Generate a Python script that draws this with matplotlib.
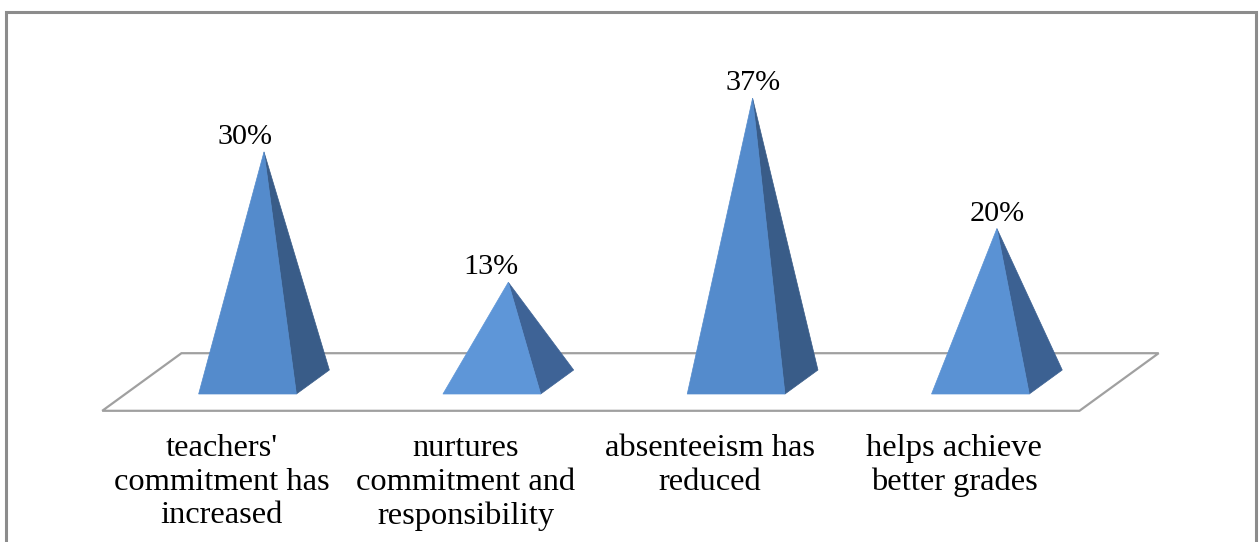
import matplotlib
matplotlib.use('Agg')
import matplotlib.pyplot as plt
from matplotlib.patches import Polygon, Rectangle
import numpy as np

categories = ["teachers'\ncommitment has\nincreased",
              "nurtures\ncommitment and\nresponsibility",
              "absenteeism has\nreduced",
              "helps achieve\nbetter grades"]
values = [30, 13, 37, 20]
value_labels = ["30%", "13%", "37%", "20%"]

W, H, DPI = 1259, 542, 100
fig = plt.figure(figsize=(W / DPI, H / DPI), dpi=DPI)
fig.patch.set_facecolor('white')
ax = fig.add_axes([0, 0, 1, 1])
ax.set_axis_off()

# layout (pixels)
step_px = 244.3
x0_px = 247.5
pct_px = 7.67
base_from_bottom = H - 394
ax.set_xlim(-x0_px / step_px, (W - x0_px) / step_px)
ax.set_ylim(-base_from_bottom / pct_px, (H - base_from_bottom) / pct_px)

D = np.array([33.0, 24.0])     # pyramid depth vector in pixels
half_w = 0.2
front_cols = ['#548BCC', '#5E96D8', '#548BCC', '#5A92D4']
side_cols = ['#395C88', '#3E6396', '#395C88', '#3C6192']
label_dx = [-19, -17, 0, 0]    # label placement tweaks (pixels, from apex)
font = ['Liberation Serif', 'DejaVu Serif']

T = ax.transData.transform

# floor
n = len(values)
fl = T((-0.5, 0)) - 0.7 * D
fr = T((n - 0.5, 0)) - 0.7 * D
br = T((n - 0.5, 0)) + 1.7 * D
bl = T((-0.5, 0)) + 1.7 * D
floor = Polygon([fl, fr, br, bl], closed=True, facecolor='white',
                edgecolor='#A0A0A0', linewidth=1.6, transform=None, zorder=1)
fig.add_artist(floor)

for i, v in enumerate(values):
    FL = T((i - half_w, 0))
    FR = T((i + half_w, 0))
    BR = FR + D
    AP = T((i, v)) + 0.5 * D
    side = Polygon([FR, BR, AP], closed=True, facecolor=side_cols[i],
                   edgecolor=side_cols[i], linewidth=0.5, transform=None, zorder=2)
    front = Polygon([FL, FR, AP], closed=True, facecolor=front_cols[i],
                    edgecolor=front_cols[i], linewidth=0.5, transform=None, zorder=3)
    fig.add_artist(side)
    fig.add_artist(front)
    ax.annotate(value_labels[i], xy=(i, v),
                xytext=(0.5 * D[0] + label_dx[i], 0.5 * D[1] + 8),
                textcoords='offset pixels', ha='center', va='baseline',
                fontsize=21.7, family=font, color='black', zorder=5)
    ax.annotate(categories[i], xy=(i, 0), xytext=(-26, -40),
                textcoords='offset pixels', ha='center', va='top',
                fontsize=23.4, family=font, color='black', linespacing=1.21)

# outer frame
frame = Rectangle((5.5 / W, -0.1), (1256 - 5.5) / W, 1 - 11.5 / H + 0.1,
                  transform=fig.transFigure, fill=False, edgecolor='#8C8C8C',
                  linewidth=2.2, zorder=10)
fig.add_artist(frame)

fig.savefig('out.png', dpi=DPI, facecolor='white')
